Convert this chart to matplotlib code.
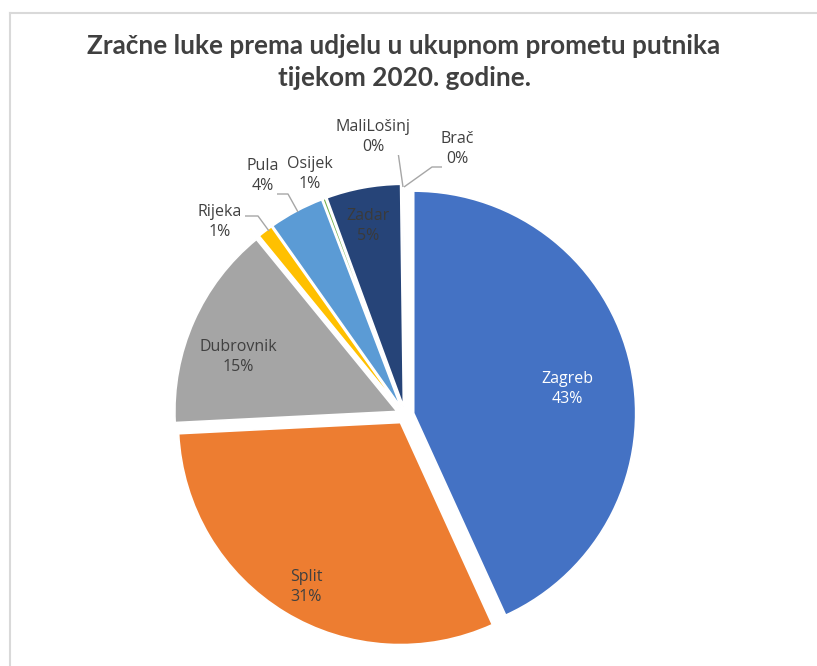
import matplotlib
matplotlib.use("Agg")
import matplotlib.pyplot as plt
from matplotlib.lines import Line2D

# ---- data ----
airports = ["Zagreb", "Split", "Dubrovnik", "Rijeka", "Pula", "Osijek", "Zadar", "MaliLošinj", "Brač"]
shares = [43.2, 31.0, 14.9, 1.1, 4.0, 0.2, 5.4, 0.1, 0.1]
pct_labels = ["43%", "31%", "15%", "1%", "4%", "1%", "5%", "0%", "0%"]
colors = ["#4472C4", "#ED7D31", "#A5A5A5", "#FFC000", "#5B9BD5", "#70AD47", "#264478", "#9E480E", "#636363"]
title = "Zračne luke prema udjelu u ukupnom prometu putnika\ntijekom 2020. godine."

# ---- layout ----
W, H = 817, 666
CX, CY, R = 405, 415, 222      # pie centre / radius in pixels (y from top)
HALF = 260

fig = plt.figure(figsize=(W / 100, H / 100), dpi=100)
fig.patch.set_facecolor("white")

# chart border (left + top visible)
fig.add_artist(Line2D([9.5 / W, 9.5 / W], [0, 1 - 12.5 / H], transform=fig.transFigure, color="#d9d9d9", lw=1.5))
fig.add_artist(Line2D([9.5 / W, 1], [1 - 12.5 / H, 1 - 12.5 / H], transform=fig.transFigure, color="#d9d9d9", lw=1.5))

ax = fig.add_axes([(CX - HALF) / W, (H - CY - HALF) / H, 2 * HALF / W, 2 * HALF / H])
wedges, _ = ax.pie(shares, colors=colors, startangle=90, counterclock=False,
                   explode=[0.04] * len(shares), radius=1.0,
                   wedgeprops=dict(edgecolor="white", linewidth=1.2))
lim = HALF / R
ax.set_xlim(-lim, lim)
ax.set_ylim(-lim, lim)
ax.set_aspect("equal", adjustable="box")
ax.axis("off")


def px(x, y):
    return ((x - CX) / R, (CY - y) / R)


font = ["Open Sans", "DejaVu Sans"]
fs = 11.5
# label positions in pixels (x, y of centre of two-line label)
label_pos = {
    "Zagreb": (567, 389), "Split": (306, 587), "Dubrovnik": (238, 357), "Rijeka": (220, 222),
    "Pula": (263, 176), "Osijek": (310, 174), "Zadar": (368, 226), "MaliLošinj": (373, 137),
    "Brač": (457, 149),
}
label_col = {"Zagreb": "white", "Zadar": "#3a3a3a"}
for name, pct in zip(airports, pct_labels):
    x, y = px(*label_pos[name])
    ax.text(x, y, f"{name}\n{pct}", ha="center", va="center", fontsize=fs, family=font,
            color=label_col.get(name, "#404040"), linespacing=1.4)

# leader lines (pixel paths)
leaders = [
    [(245, 216), (258, 216), (269, 231)],
    [(277, 194), (288, 194), (298, 212)],
    [(388, 152), (398, 152), (403, 187)],
    [(442, 167), (432, 167), (404, 187)],
]
for path in leaders:
    xs, ys = zip(*[px(*p) for p in path])
    ax.plot(xs, ys, color="#a6a6a6", lw=1.0, solid_capstyle="butt")

fig.text(404 / W, 1 - 62 / H, title, ha="center", va="center", fontsize=18.8, fontweight="bold",
         family=["Lato", "DejaVu Sans"], color="#404040", linespacing=1.45)

fig.savefig("out.png", dpi=100)
